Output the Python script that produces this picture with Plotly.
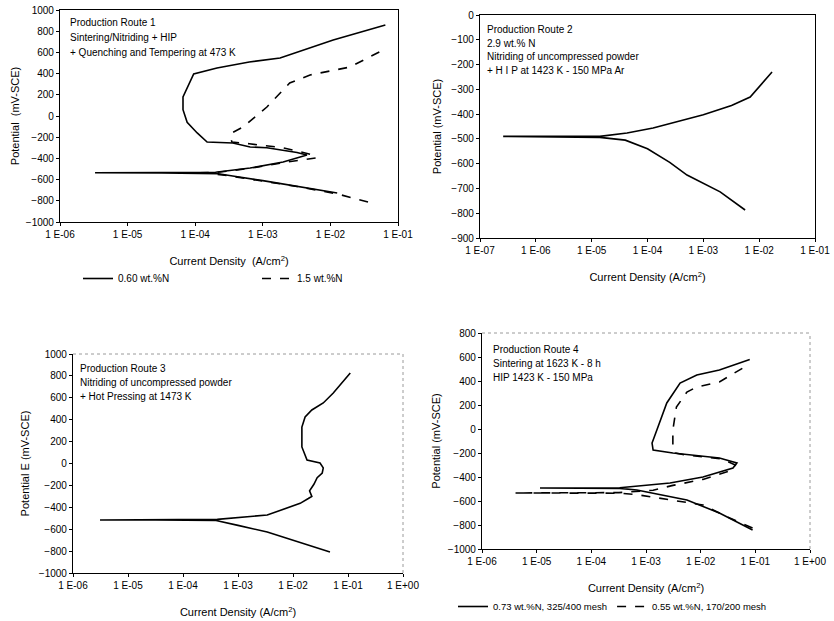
import plotly.graph_objects as go

W, H = 834, 621

# ---------------- data (current density A/cm^2, potential mV-SCE) ----------------
# Panel 1 - Production Route 1
p1_solid_i = [1.26e-2, 3.2e-3, 1.0e-3, 4.0e-4, 2.2e-4, 3.2e-5, 3.3e-6, 3.2e-5, 2.0e-4,
              6.5e-4, 2.0e-3, 4.5e-3, 3.2e-3, 1.15e-3, 6.5e-4, 3.6e-4, 1.5e-4, 1.07e-4,
              7.6e-5, 6.6e-5, 6.6e-5, 9.5e-5, 2.1e-4, 6.3e-4, 1.8e-3, 1.1e-2, 6.5e-2]
p1_solid_e = [-726, -660, -610, -570, -545, -538, -536, -534, -530,
              -491, -434, -368, -345, -300, -292, -255, -245, -160,
              -60, 60, 180, 396, 453, 510, 547, 717, 858]
p1_dash_i = [3.6e-2, 1.26e-2, 3.2e-3, 1.0e-3, 3.2e-4, 1.6e-4, 1.0e-4, 2.0e-4, 6.3e-4,
             2.0e-3, 6.3e-3, 5.0e-3, 2.0e-3, 6.3e-4, 3.5e-4, 3.3e-4, 3.6e-4, 5.1e-4,
             1.15e-3, 2.5e-3, 5.0e-3, 1.95e-2, 6.9e-2]
p1_dash_e = [-811, -735, -665, -612, -565, -540, -536, -533, -495,
             -440, -395, -360, -300, -262, -245, -200, -155, -104,
             85, 311, 387, 462, 642]

# Panel 2 - Production Route 2
p2_i = [5.6e-3, 2.0e-3, 5.1e-4, 2.5e-4, 1.0e-4, 4.0e-5, 1.4e-5, 3.2e-6, 2.6e-7,
        3.2e-6, 1.4e-5, 4.3e-5, 1.26e-4, 1.0e-3, 3.2e-3, 6.9e-3, 1.17e-2, 1.7e-2]
p2_e = [-787, -714, -646, -595, -540, -505, -494, -492, -490,
        -490, -490, -476, -456, -403, -365, -331, -270, -230]

# Panel 3 - Production Route 3
p3_i = [4.7e-2, 1.0e-2, 3.4e-3, 1.0e-3, 5.4e-4, 4.0e-4, 3.2e-5, 3.1e-6, 3.2e-5,
        4.2e-4, 3.4e-3, 1.35e-2, 1.9e-2, 2.2e-2, 2.0e-2, 2.4e-2, 2.75e-2, 3.4e-2,
        3.55e-2, 3.1e-2, 1.8e-2, 1.45e-2, 1.45e-2, 1.66e-2, 2.2e-2, 3.55e-2, 5.4e-2, 1.1e-1]
p3_e = [-808, -700, -626, -565, -534, -520, -516, -516, -514,
        -510, -470, -364, -320, -300, -250, -190, -130, -87,
        -40, 5, 32, 151, 333, 425, 489, 553, 644, 826]

# Panel 4 - Production Route 4
p4_solid_i = [8.9e-2, 2.2e-2, 5.6e-3, 1.6e-3, 6.8e-4, 3.3e-4, 1.15e-5, 3.3e-4, 2.75e-3,
              1.1e-2, 3.9e-2, 4.6e-2, 2.2e-2, 3.1e-3, 1.35e-3, 1.29e-3, 1.58e-3, 2.4e-3,
              4.2e-3, 8.5e-3, 2.2e-2, 7.9e-2]
p4_solid_e = [-842, -700, -592, -540, -508, -495, -492, -490, -450,
              -400, -325, -283, -242, -200, -175, -117, -8, 217,
              383, 450, 492, 580]
p4_dash_i = [8.9e-2, 3.4e-2, 1.1e-2, 1.35e-3, 6.3e-4, 3.2e-4, 4.0e-6, 3.2e-4, 1.35e-3,
             3.1e-3, 1.1e-2, 3.4e-2, 4.3e-2, 2.5e-2, 5.0e-3, 3.4e-3, 3.1e-3, 3.1e-3,
             3.6e-3, 5.6e-3, 8.5e-3, 2.2e-2, 5.9e-2]
p4_dash_e = [-825, -742, -633, -567, -545, -535, -533, -530, -510,
             -470, -420, -350, -300, -250, -215, -200, -150, -8,
             183, 308, 350, 392, 508]

# ---------------- tick labels ----------------
x_ticks_p1 = ["1 E-06", "1 E-05", "1 E-04", "1 E-03", "1 E-02", "1 E-01"]
x_vals_p1 = [1e-6, 1e-5, 1e-4, 1e-3, 1e-2, 1e-1]
x_ticks_p2 = ["1 E-07", "1 E-06", "1 E-05", "1 E-04", "1 E-03", "1 E-02", "1 E-01"]
x_vals_p2 = [1e-7, 1e-6, 1e-5, 1e-4, 1e-3, 1e-2, 1e-1]
x_ticks_p34 = ["1 E-06", "1 E-05", "1 E-04", "1 E-03", "1 E-02", "1 E-01", "1 E+00"]
x_vals_p34 = [1e-6, 1e-5, 1e-4, 1e-3, 1e-2, 1e-1, 1e0]

notes_p1 = ["Production Route 1", "Sintering/Nitriding + HIP", "+ Quenching and Tempering at 473 K"]
notes_p2 = ["Production Route 2", "2.9 wt.% N", "Nitriding of uncompressed powder", "+ H I P at 1423 K - 150 MPa Ar"]
notes_p3 = ["Production Route 3", "Nitriding of uncompressed powder", "+ Hot Pressing at 1473 K"]
notes_p4 = ["Production Route 4", "Sintering at 1623 K - 8 h", "HIP 1423 K - 150 MPa"]

FONT = "Liberation Sans, Arial, sans-serif"


def px_x(x):
    return x / W


def px_y(y):
    return 1 - y / H


# plot areas in pixels (left, top, right, bottom)
boxes = {
    1: (60, 10, 398, 222),
    2: (480, 15, 815, 238),
    3: (73, 354, 403, 573),
    4: (482, 333, 810, 549),
}

fig = go.Figure()
solid = dict(color="black", width=1.6)
dashed = dict(color="black", width=1.6, dash="dash")

fig.add_trace(go.Scatter(x=p1_solid_i, y=p1_solid_e, mode="lines", line=solid,
                         name="0.60 wt.%N", xaxis="x", yaxis="y", legend="legend"))
fig.add_trace(go.Scatter(x=p1_dash_i, y=p1_dash_e, mode="lines", line=dashed,
                         name="1.5 wt.%N", xaxis="x", yaxis="y", legend="legend"))
fig.add_trace(go.Scatter(x=p2_i, y=p2_e, mode="lines", line=solid, showlegend=False,
                         xaxis="x2", yaxis="y2"))
fig.add_trace(go.Scatter(x=p3_i, y=p3_e, mode="lines", line=solid, showlegend=False,
                         xaxis="x3", yaxis="y3"))
fig.add_trace(go.Scatter(x=p4_solid_i, y=p4_solid_e, mode="lines", line=solid,
                         name="0.73 wt.%N, 325/400 mesh", xaxis="x4", yaxis="y4", legend="legend2"))
fig.add_trace(go.Scatter(x=p4_dash_i, y=p4_dash_e, mode="lines", line=dashed,
                         name="0.55 wt.%N, 170/200 mesh", xaxis="x4", yaxis="y4", legend="legend2"))

tickfont = dict(family=FONT, size=10, color="black")
titlefont = dict(family=FONT, size=11, color="black")


def xaxis(n, rng, vals, texts, mirror, title):
    l, t, r, b = boxes[n]
    return dict(type="log", range=rng, domain=[px_x(l), px_x(r)],
                anchor="y" if n == 1 else f"y{n}", automargin=False,
                tickvals=vals, ticktext=texts, ticks="outside", ticklen=3,
                tickcolor="black", showgrid=False, zeroline=False,
                showline=True, linecolor="black", linewidth=1.2, mirror=mirror,
                tickfont=tickfont, ticklabeloverflow="allow",
                title=dict(text=title, font=titlefont, standoff=18))


def yaxis(n, rng, dtick, title, mirror, standoff):
    l, t, r, b = boxes[n]
    return dict(range=rng, domain=[px_y(b), px_y(t)],
                anchor="x" if n == 1 else f"x{n}", automargin=False,
                dtick=dtick, ticks="outside", ticklen=3, tickcolor="black",
                showgrid=False, zeroline=False, showline=True, linecolor="black",
                linewidth=1.2, mirror=mirror, tickfont=tickfont, ticklabeloverflow="allow",
                title=dict(text=title, font=titlefont, standoff=standoff))


cd = "Current Density (A/cm<sup>2</sup>)"
layout = dict(
    width=W, height=H, margin=dict(l=0, r=0, t=0, b=0, autoexpand=False),
    paper_bgcolor="white", plot_bgcolor="white",
    font=dict(family=FONT, size=10, color="black"),
    xaxis=xaxis(1, [-6, -1], x_vals_p1, x_ticks_p1, True, "Current Density  (A/cm<sup>2</sup>)"),
    yaxis=yaxis(1, [-1000, 1000], 200, "Potential  (mV-SCE)", True, 3),
    xaxis2=xaxis(2, [-7, -1], x_vals_p2, x_ticks_p2, True, cd),
    yaxis2=yaxis(2, [-900, 0], 100, "Potential (mV-SCE)", True, 7),
    xaxis3=xaxis(3, [-6, 0], x_vals_p34, x_ticks_p34, False, cd),
    yaxis3=yaxis(3, [-1000, 1000], 200, "Potential E (mV-SCE)", False, 6),
    xaxis4=xaxis(4, [-6, 0], x_vals_p34, x_ticks_p34, False, cd),
    yaxis4=yaxis(4, [-1000, 800], 200, "Potential (mV-SCE)", False, 4),
    legend=dict(orientation="h", x=px_x(78), y=px_y(264), xanchor="left", yanchor="top",
                font=dict(family=FONT, size=10, color="black"), itemwidth=30,
                entrywidth=134, entrywidthmode="pixels", bgcolor="rgba(0,0,0,0)"),
    legend2=dict(orientation="h", x=px_x(453), y=px_y(592), xanchor="left", yanchor="top",
                 font=dict(family=FONT, size=9.5, color="black"), itemwidth=30,
                 bgcolor="rgba(0,0,0,0)"),
    showlegend=True,
)
fig.update_layout(**layout)

# faint dotted top/right frame on panels 3 and 4
for n in (3, 4):
    xr, yr = f"x{n} domain", f"y{n} domain"
    fig.add_shape(type="line", xref=xr, yref=yr, x0=0, x1=1, y0=1, y1=1,
                  line=dict(color="#9a9a9a", width=1, dash="dot"))
    fig.add_shape(type="line", xref=xr, yref=yr, x0=1, x1=1, y0=0, y1=1,
                  line=dict(color="#9a9a9a", width=1, dash="dot"))


def add_notes(lines, x0, y0, step):
    for k, s in enumerate(lines):
        fig.add_annotation(text=s, xref="paper", yref="paper", x=px_x(x0), y=px_y(y0 + k * step),
                           xanchor="left", yanchor="middle", showarrow=False,
                           font=dict(family=FONT, size=10, color="black"))


add_notes(notes_p1, 68, 23, 14.5)
add_notes(notes_p2, 485, 30, 13.5)
add_notes(notes_p3, 78, 368, 14.5)
add_notes(notes_p4, 491, 350, 13.5)

fig.write_html("out.html", config={"displayModeBar": False},
               post_script="document.body.style.margin='0';document.body.style.overflow='hidden';")
